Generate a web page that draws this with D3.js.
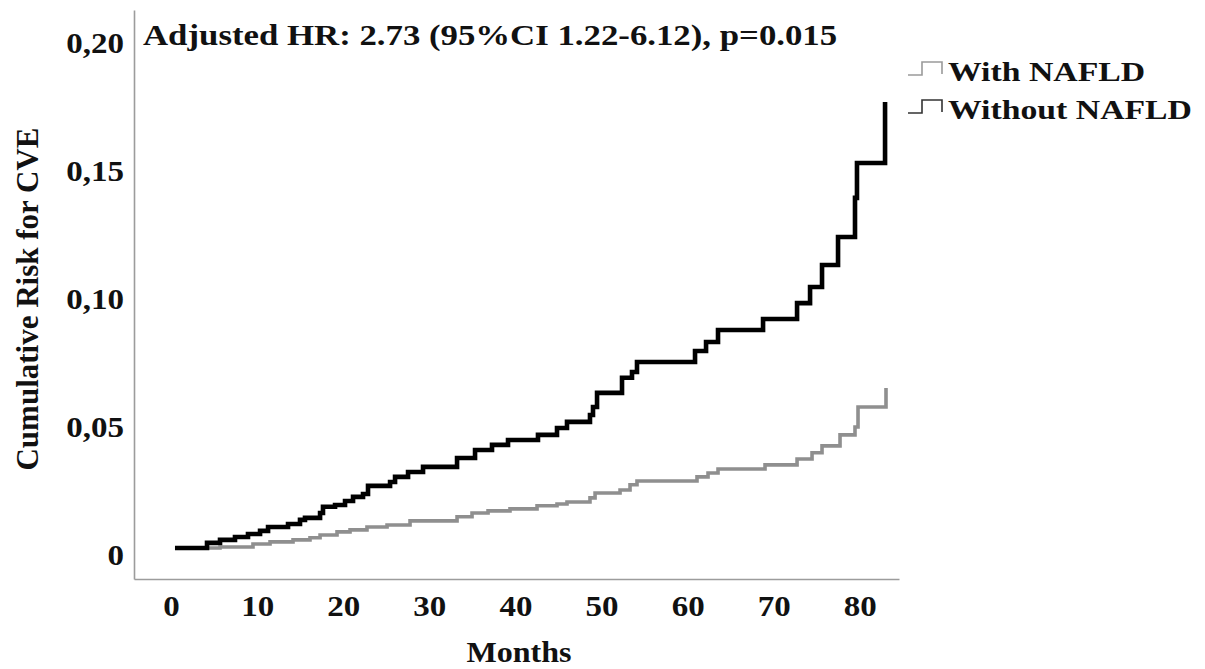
<!DOCTYPE html>
<html>
<head>
<meta charset="utf-8">
<script src="https://cdn.jsdelivr.net/npm/d3@7"></script>
<style>
  body { margin: 0; background: #fff; }
  svg { display: block; }
  text { font-family: "Liberation Serif", "Times New Roman", serif; font-weight: bold; fill: #111; }
</style>
</head>
<body>
<svg id="chart" width="1205" height="669"></svg>
<script>
// cumulative risk curves (months, risk)
const monthsWith = [0.46, 5.69, 9.52, 11.5, 14.17, 16.14, 17.31, 19.28, 20.79, 22.76, 25.09, 27.76,
  33.22, 34.96, 36.82, 39.37, 42.51, 44.83, 45.99, 48.66, 49.25, 52.15, 53.31, 54.12,
  61.09, 62.37, 63.53, 68.99, 72.71, 74.45, 75.61, 77.7, 79.44, 79.79, 83.04];
const riskWith = [0.0023, 0.0027, 0.0039, 0.0047, 0.0055, 0.0063, 0.0074, 0.0086, 0.0094, 0.0105, 0.0113, 0.0129,
  0.0145, 0.016, 0.0168, 0.0176, 0.0188, 0.0195, 0.0203, 0.0219, 0.0238, 0.025, 0.027, 0.0285,
  0.0301, 0.0316, 0.0332, 0.0348, 0.0371, 0.0395, 0.0422, 0.0465, 0.0496, 0.0574, 0.0648];

const monthsWithout = [0.46, 4.18, 5.69, 7.43, 8.94, 10.34, 11.27, 13.59, 14.98, 15.56, 17.31, 17.65,
  19.05, 20.21, 21.14, 22.3, 22.88, 25.44, 26.02, 27.53, 29.27, 33.22, 35.31, 37.28, 39.14,
  42.62, 44.83, 45.99, 48.66, 49.01, 49.48, 52.38, 53.54, 54.12, 60.86, 62.14, 63.53,
  68.76, 72.71, 74.22, 75.61, 77.47, 79.44, 79.67, 82.93];
const riskWithout = [0.0023, 0.0043, 0.0055, 0.0066, 0.0078, 0.009, 0.0105, 0.0117, 0.0133, 0.0141, 0.016, 0.0184,
  0.0191, 0.0207, 0.0223, 0.0234, 0.0266, 0.0281, 0.0301, 0.032, 0.034, 0.0375, 0.0406, 0.0426, 0.0445,
  0.0465, 0.0492, 0.0516, 0.0543, 0.0574, 0.0629, 0.0688, 0.0711, 0.075, 0.0793, 0.0828, 0.0875,
  0.0918, 0.098, 0.1043, 0.1129, 0.1238, 0.1391, 0.1527, 0.1766];

const xTicks = [0, 10, 20, 30, 40, 50, 60, 70, 80];
const yTicks = [0, 0.05, 0.10, 0.15, 0.20];
const yTickLabels = ["0", "0,05", "0,10", "0,15", "0,20"];
const legendLabels = ["With NAFLD", "Without NAFLD"];
const legendColors = ["#9a9a9a", "#333"];

const svg = d3.select("#chart");

const x = d3.scaleLinear().domain([-4.3, 84.55]).range([134, 899]);
const y = d3.scaleLinear().domain([-0.0098, 0.2125]).range([579, 10]);

// axes: plain grey lines, no tick marks
const xAxis = svg.append("g")
    .attr("transform", "translate(0,579)")
    .call(d3.axisBottom(x).tickValues(xTicks).tickSize(0).tickSizeOuter(0));
const yAxis = svg.append("g")
    .attr("transform", "translate(134,0)")
    .call(d3.axisLeft(y).tickValues(yTicks).tickSize(0).tickSizeOuter(0)
        .tickFormat((d, i) => yTickLabels[i]));

[xAxis, yAxis].forEach(a => {
    a.select(".domain").attr("stroke", "#9c9c9c").attr("stroke-width", 1.6);
    a.selectAll("text").attr("font-family", null).attr("fill", "#111").style("font-size", "30px");
});
xAxis.selectAll("text")
    .attr("y", 0).attr("dy", 0)
    .attr("transform", "translate(0,37) scale(1.1,1)");
yAxis.selectAll("text")
    .attr("x", 0).attr("dy", "0.34em")
    .attr("transform", "translate(-10,0) scale(1.1,1)");

// curves
const line = d3.line()
    .x(d => x(d[0]))
    .y(d => y(d[1]))
    .curve(d3.curveStepAfter);

svg.append("path")
    .datum(monthsWith.map((m, i) => [m, riskWith[i]]))
    .attr("fill", "none")
    .attr("stroke", "#8f8f8f")
    .attr("stroke-width", 3.6)
    .attr("d", line);

svg.append("path")
    .datum(monthsWithout.map((m, i) => [m, riskWithout[i]]))
    .attr("fill", "none")
    .attr("stroke", "#000")
    .attr("stroke-width", 4.6)
    .attr("d", line);

// titles
svg.append("text")
    .attr("transform", "translate(143,45) scale(1.16,1)")
    .style("font-size", "30px")
    .text("Adjusted HR: 2.73 (95%CI 1.22-6.12), p=0.015");

svg.append("text")
    .attr("transform", "translate(519,662) scale(1.07,1)")
    .attr("text-anchor", "middle")
    .style("font-size", "30px")
    .text("Months");

svg.append("text")
    .attr("transform", "translate(38,299) rotate(-90)")
    .attr("text-anchor", "middle")
    .style("font-size", "31px")
    .text("Cumulative Risk for CVE");

// legend
const legend = svg.append("g").selectAll("g")
    .data(legendLabels)
    .join("g")
    .attr("transform", (d, i) => `translate(908,${62 + i * 38})`);

legend.append("path")
    .attr("fill", "none")
    .attr("stroke", (d, i) => legendColors[i])
    .attr("stroke-width", 1.6)
    .attr("d", "M0,13 H14 V0 H34 V12");

legend.append("text")
    .attr("transform", "translate(40,19) scale(1.25,1)")
    .style("font-size", "27px")
    .text(d => d);
</script>
</body>
</html>
